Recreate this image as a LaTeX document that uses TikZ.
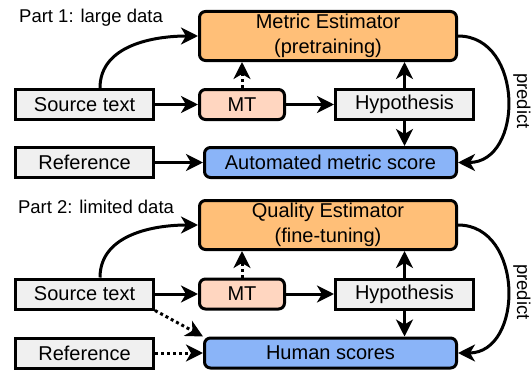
\documentclass[tikz,border=0pt]{standalone}
\usepackage{fontspec}
\setmainfont{Liberation Sans}
\usetikzlibrary{arrows.meta}
\definecolor{estorange}{HTML}{FFBF78}
\definecolor{mtpink}{HTML}{FFD6C0}
\definecolor{scoreblue}{HTML}{8AB4F8}
\definecolor{boxgray}{HTML}{F0F0F0}
\tikzset{
  base/.style={draw=black, line width=3pt, font=\fontsize{20}{25}\selectfont, inner sep=0pt, align=center},
  graybox/.style={base, fill=boxgray, minimum width=138pt, minimum height=30pt},
  estbox/.style={base, fill=estorange, rounded corners=6pt, minimum width=257pt, minimum height=49pt},
  mtbox/.style={base, fill=mtpink, rounded corners=6pt, minimum width=85pt, minimum height=30pt},
  scorebox/.style={base, fill=scoreblue, rounded corners=6pt, minimum width=252pt, minimum height=30pt},
  conn/.style={line width=3pt, -{Stealth[length=17pt,width=17pt,inset=5pt]}},
  dotconn/.style={conn, dash pattern=on 3pt off 3pt},
  parttitle/.style={font=\fontsize{18.5}{22}\selectfont, inner sep=0pt},
  predlabel/.style={font=\fontsize{18.5}{22}\selectfont, inner sep=0pt, rotate=-90},
}
\begin{document}
\begin{tikzpicture}[x=1pt,y=-1pt]
\useasboundingbox (0,0) rectangle (532,369);
% Part 1
\node[parttitle] (p1) at (91,18) {Part 1: large data};
\node[estbox] (me) at (328,36) {Metric Estimator\\(pretraining)};
\node[graybox] (src1) at (84.5,104.5) {Source text};
\node[mtbox] (mt1) at (242,104.5) {MT};
\node[graybox] (hyp1) at (404.5,104.5) {Hypothesis};
\node[graybox] (ref1) at (84.5,162.5) {Reference};
\node[scorebox] (auto) at (330.5,162.5) {Automated metric score};
\node[predlabel] (pr1) at (522,101) {predict};
\coordinate (s1top) at (100,88);
\draw[conn] (src1.north -| s1top) to[out=90,in=180] (me.west);
\draw[conn] (src1) -- (mt1);
\draw[conn] (mt1) -- (hyp1);
\draw[dotconn] (mt1.north) -- (mt1.north |- me.south);
\draw[conn] (hyp1.north) -- (hyp1.north |- me.south);
\draw[conn] (hyp1.south) -- (hyp1.south |- auto.north);
\draw[conn] (ref1) -- (auto);
\draw[conn] (me.east) .. controls +(66,0) and +(66,0) .. (auto.east);
% Part 2
\node[parttitle] (p2) at (96,207) {Part 2: limited data};
\node[estbox] (qe) at (328,225) {Quality Estimator\\(fine-tuning)};
\node[graybox] (src2) at (84.5,294) {Source text};
\node[mtbox] (mt2) at (242,294) {MT};
\node[graybox] (hyp2) at (404.5,294) {Hypothesis};
\node[graybox] (ref2) at (84.5,353.5) {Reference};
\node[scorebox] (hum) at (330.5,353) {Human scores};
\node[predlabel] (pr2) at (522,292) {predict};
\coordinate (s2top) at (100,277);
\draw[conn] (src2.north -| s2top) to[out=90,in=180] (qe.west);
\draw[conn] (src2) -- (mt2);
\draw[conn] (mt2) -- (hyp2);
\draw[dotconn] (mt2.north) -- (mt2.north |- qe.south);
\draw[conn] (hyp2.north) -- (hyp2.north |- qe.south);
\draw[conn] (hyp2.south) -- (hyp2.south |- hum.north);
\draw[dotconn] (src2.south east) -- (hum.north west);
\draw[dotconn] (ref2.east |- hum.west) -- (hum.west);
\draw[conn] (qe.east) .. controls +(66,0) and +(66,0) .. (hum.east);
\end{tikzpicture}
\end{document}
